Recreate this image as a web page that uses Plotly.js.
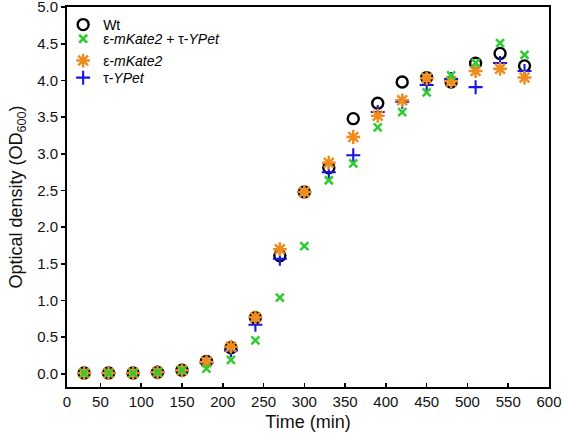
<!DOCTYPE html>
<html>
<head>
<meta charset="utf-8">
<script src="https://cdn.plot.ly/plotly-3.0.1.min.js"></script>
<style>html,body{margin:0;padding:0;background:#fff;}#chart{width:564px;height:438px;}</style>
</head>
<body>
<div id="chart"></div>
<script>
// Time points (min)
const time = [30, 60, 90, 120, 150, 180, 210, 240, 270, 300, 330, 360, 390, 420, 450, 480, 510, 540, 570];
// OD600 values
const wt       = [0.01, 0.01, 0.01, 0.02, 0.05, 0.17, 0.355, 0.765, 1.61, 2.48, 2.81, 3.48, 3.69, 3.98, 4.04, 3.98, 4.235, 4.37, 4.20];
const kateYpet = [0.01, 0.01, 0.01, 0.02, 0.05, 0.07, 0.19, 0.455, 1.04, 1.74, 2.64, 2.87, 3.36, 3.57, 3.84, 4.07, 4.24, 4.51, 4.35];
const kate     = [0.01, 0.01, 0.01, 0.02, 0.05, 0.16, 0.37, 0.77, 1.70, 2.48, 2.88, 3.23, 3.52, 3.73, 4.03, 3.99, 4.13, 4.16, 4.04];
const ypet     = [0.01, 0.01, 0.01, 0.02, 0.05, 0.15, 0.32, 0.67, 1.57, 2.48, 2.75, 2.98, 3.57, 3.71, 3.94, 4.02, 3.91, 4.24, 4.13];

const seriesNames = ["Wt", "ε-<i>mKate2</i> + τ-<i>YPet</i>", "ε-<i>mKate2</i>", "τ-<i>YPet</i>"];
const xTickLabels = [0, 50, 100, 150, 200, 250, 300, 350, 400, 450, 500, 550, 600];
const yTickLabels = [0.0, 0.5, 1.0, 1.5, 2.0, 2.5, 3.0, 3.5, 4.0, 4.5, 5.0];

const xMin = 9, xMax = 600;
const yMin = -0.18, yMax = 5.003;

const FONT = "Liberation Sans, Arial, Helvetica, sans-serif";

const traces = [
  {x: time, y: wt, name: seriesNames[0], legend: "legend",
   mode: "markers", type: "scatter",
   marker: {symbol: "circle-open", size: 11, color: "#000000", line: {color: "#000000", width: 2.4}}},
  {x: time, y: ypet, name: seriesNames[3], legend: "legend4",
   mode: "markers", type: "scatter",
   marker: {symbol: "cross-thin-open", size: 10, color: "#1515e6", line: {color: "#1515e6", width: 2.1}}},
  {x: time, y: kate, name: seriesNames[2], legend: "legend3",
   mode: "markers", type: "scatter",
   marker: {symbol: "asterisk-open", size: 11.5, color: "#ee8c1e", line: {color: "#ee8c1e", width: 2.5}}},
  {x: time, y: kateYpet, name: seriesNames[1], legend: "legend2",
   mode: "markers", type: "scatter",
   marker: {symbol: "x-thin-open", size: 8, color: "#2ecc2e", line: {color: "#2ecc2e", width: 2.5}}}
];

function legendAt(yFrac) {
  return {x: -0.008, y: yFrac, xanchor: "left", yanchor: "middle", bgcolor: "rgba(0,0,0,0)",
          font: {family: FONT, size: 14, color: "#000"}, borderwidth: 0,
          itemclick: false, itemdoubleclick: false};
}

const layout = {
  width: 564, height: 438,
  margin: {l: 67, r: 15, t: 7, b: 51},
  paper_bgcolor: "#ffffff", plot_bgcolor: "#ffffff",
  font: {family: FONT, color: "#111111", size: 15},
  showlegend: true,
  legend: legendAt(0.9526),
  legend2: legendAt(0.9154),
  legend3: legendAt(0.858),
  legend4: legendAt(0.813),
  xaxis: {
    range: [xMin, xMax], showgrid: false, zeroline: false,
    showline: true, linecolor: "#000", linewidth: 2, mirror: true,
    ticks: "inside", ticklen: 4, tickwidth: 1.5, tickcolor: "#000",
    tickvals: xTickLabels.map(v => Math.max(v, xMin)),
    ticktext: xTickLabels.map(v => String(v)),
    ticklabeloverflow: "allow",
    tickfont: {family: FONT, size: 15, color: "#111"},
    title: {text: "Time (min)", font: {family: FONT, size: 18, color: "#111"}, standoff: 6}
  },
  yaxis: {
    range: [yMin, yMax], showgrid: false, zeroline: false,
    showline: true, linecolor: "#000", linewidth: 2, mirror: true,
    ticks: "outside", ticklen: 4, tickwidth: 1.5, tickcolor: "#000",
    tickvals: yTickLabels,
    ticktext: yTickLabels.map(v => v.toFixed(1)),
    ticklabeloverflow: "allow",
    tickfont: {family: FONT, size: 15, color: "#111"},
    title: {text: "Optical density (OD<sub>600</sub>)", font: {family: FONT, size: 18, color: "#111"}, standoff: 10}
  }
};

Plotly.newPlot("chart", traces, layout, {staticPlot: true, displayModeBar: false});
</script>
</body>
</html>
